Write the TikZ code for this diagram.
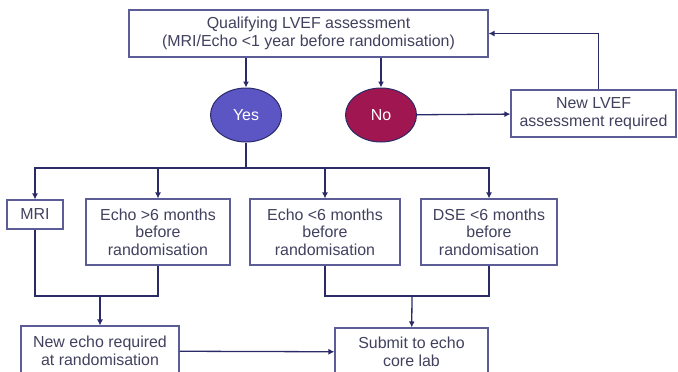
\documentclass[tikz,border=0pt]{standalone}
\usepackage{fontspec}
\setmainfont{Liberation Sans}
\usetikzlibrary{arrows.meta,shapes.geometric}
\definecolor{linecol}{RGB}{43,42,104}
\definecolor{boxcol}{RGB}{92,92,150}
\definecolor{textcol}{RGB}{65,65,95}
\definecolor{yescol}{RGB}{92,86,196}
\definecolor{nocol}{RGB}{160,22,80}
\tikzset{
  stepbox/.style={draw=boxcol,line width=1.1pt,fill=white,text=textcol,align=center,
    inner sep=0pt,font=\fontsize{16}{17.5}\selectfont},
  answer/.style={ellipse,draw=linecol,line width=1pt,text=white,inner sep=0pt,
    minimum width=71bp,minimum height=54bp,font=\fontsize{16}{17.5}\selectfont},
  link/.style={draw=linecol,line width=1.3pt},
  arr/.style={link,-{Latex[length=6pt,width=6pt]}}
}
\begin{document}
\begin{tikzpicture}[x=1bp,y=-1bp]
  \useasboundingbox (0,0) rectangle (678,371);
  % boxes
  \node[stepbox,minimum width=359bp,minimum height=47bp] (assess) at (308.5,33.5)
    {Qualifying LVEF assessment\\(MRI/Echo <1 year before randomisation)};
  \node[answer,fill=yescol] (yes) at (246,115) {Yes};
  \node[answer,fill=nocol] (no) at (381,115) {No};
  \node[stepbox,minimum width=165bp,minimum height=47bp] (newlvef) at (593.5,113.5)
    {New LVEF\\assessment required};
  \node[stepbox,minimum width=56bp,minimum height=29bp] (mri) at (35,214.5) {MRI};
  \node[stepbox,minimum width=144bp,minimum height=66bp] (echoold) at (158,232)
    {Echo >6 months\\before\\randomisation};
  \node[stepbox,minimum width=150bp,minimum height=66bp] (echonew) at (325,232)
    {Echo <6 months\\before\\randomisation};
  \node[stepbox,minimum width=136bp,minimum height=66bp] (dse) at (489,232)
    {DSE <6 months\\before\\randomisation};
  \node[stepbox,minimum width=158bp,minimum height=50bp] (newecho) at (100,351)
    {New echo required\\at randomisation};
  \node[stepbox,minimum width=153bp,minimum height=48bp] (corelab) at (411.5,352)
    {Submit to echo\\core lab};
  % connectors
  \draw[arr] (yes |- assess.south) -- (yes);
  \draw[arr] (no |- assess.south) -- (no);
  \draw[arr] (no) -- (newlvef);
  \draw[arr] ([xshift=5bp]newlvef.north) |- (assess.east);
  \coordinate (split) at (246,168);
  \draw[link] (yes) -- (split);
  \foreach \b in {mri,echoold,echonew,dse}
    \draw[arr] (split) -| (\b.north);
  \coordinate (joinA) at (100,296);
  \coordinate (joinB) at (412,296);
  \draw[link] (mri) |- (joinA);
  \draw[link] (echoold) |- (joinA);
  \draw[arr] (joinA) -- (newecho);
  \draw[link] (echonew) |- (joinB);
  \draw[link] (dse) |- (joinB);
  \draw[arr] (joinB) -- (corelab);
  \draw[arr] (newecho) -- (corelab);
\end{tikzpicture}
\end{document}
